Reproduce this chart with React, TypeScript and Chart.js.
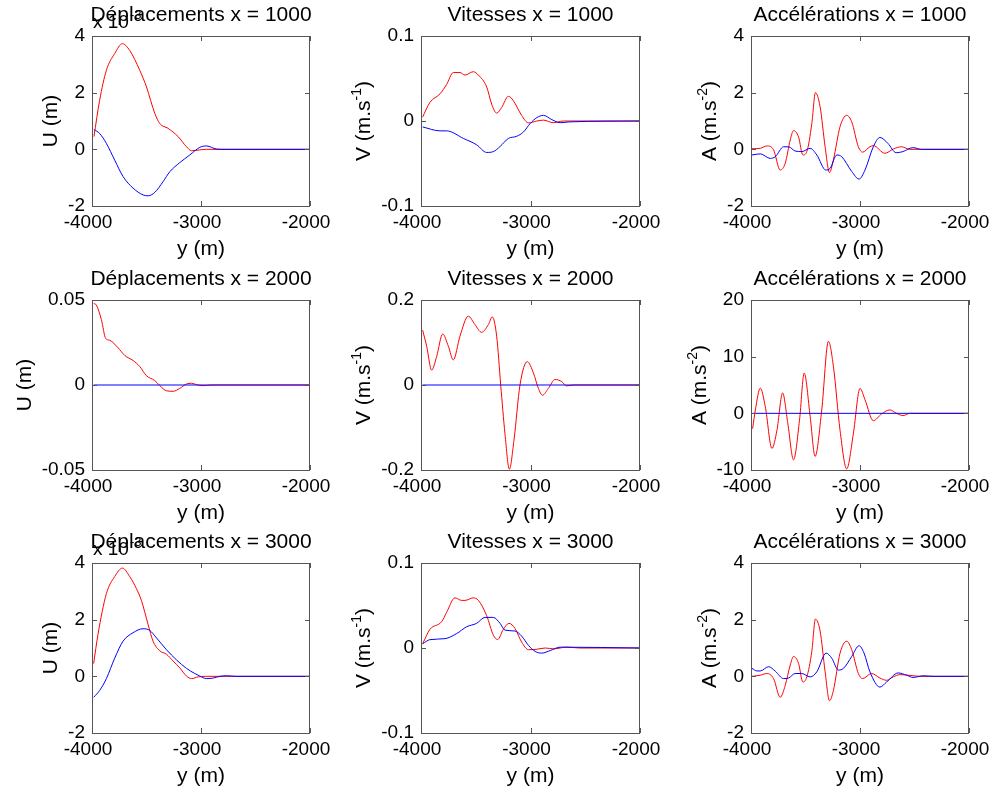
import React, { useEffect, useRef } from 'react';
import { Chart, registerables } from 'chart.js';

Chart.register(...registerables);

const W = 995;
const H = 794;
const FONT = "'Liberation Sans', Arial, Helvetica, sans-serif";
const FS = 19;
const FS_TITLE = 21;
const FS_SUP = 14;

// ---------- axes ----------
const X_MIN = -4000;
const X_MAX = -2000;
const xTicks = [-4000, -3000, -2000];
const xTickLabels = ['-4000', '-3000', '-2000'];
const xTitle = 'y (m)';

const uTicksSmall = [-0.002, 0, 0.002, 0.004];
const uTicksSmallLabels = ['-2', '0', '2', '4'];
const uTicksMid = [-0.05, 0, 0.05];
const uTicksMidLabels = ['-0.05', '0', '0.05'];
const vTicksSmall = [-0.1, 0, 0.1];
const vTicksSmallLabels = ['-0.1', '0', '0.1'];
const vTicksMid = [-0.2, 0, 0.2];
const vTicksMidLabels = ['-0.2', '0', '0.2'];
const aTicksSmall = [-2, 0, 2, 4];
const aTicksSmallLabels = ['-2', '0', '2', '4'];
const aTicksMid = [-10, 0, 10, 20];
const aTicksMidLabels = ['-10', '0', '10', '20'];

const titles = [
  ['Déplacements x = 1000', 'Vitesses x = 1000', 'Accélérations x = 1000'],
  ['Déplacements x = 2000', 'Vitesses x = 2000', 'Accélérations x = 2000'],
  ['Déplacements x = 3000', 'Vitesses x = 3000', 'Accélérations x = 3000'],
];

// ---------- x = 1000 ----------
const u1RedX = [-3982, -3930, -3868, -3792, -3721, -3654, -3562, -3500, -3424, -3378, -3302, -3210, -3133, -3087, -3011, -2950, -2000];
const u1RedY = [0.00045, 0.00173, 0.00279, 0.00338, 0.00373, 0.00349, 0.00279, 0.0022, 0.00127, 0.00091, 0.00074, 0.00045, 0.00009, -0.00005, -0.00002, 0, 0];
const u1BlueX = [-3982, -3930, -3868, -3792, -3715, -3623, -3531, -3485, -3424, -3348, -3286, -3195, -3103, -3011, -2949, -2858, -2780, -2000];
const u1BlueY = [0.0007, 0.00056, 0.00021, -0.00038, -0.00096, -0.00137, -0.00161, -0.00164, -0.00152, -0.00114, -0.00079, -0.00047, -0.0002, 0.00007, 0.00012, 0.00001, 0, 0];

const v1RedX = [-3985, -3918, -3826, -3766, -3705, -3644, -3598, -3522, -3476, -3400, -3355, -3309, -3263, -3202, -3157, -3081, -3018, -2942, -2881, -2792, -2700, -2000];
const v1RedY = [0.0047, 0.022, 0.032, 0.043, 0.057, 0.057, 0.054, 0.058, 0.054, 0.04, 0.02, 0.0093, 0.016, 0.029, 0.024, 0.0066, -0.0023, 0, 0.001, -0.002, 0, 0];
const v1BlueX = [-3985, -3826, -3766, -3613, -3492, -3400, -3339, -3278, -3202, -3126, -3065, -3003, -2942, -2881, -2805, -2729, -2640, -2000];
const v1BlueY = [-0.007, -0.0116, -0.0116, -0.0205, -0.028, -0.037, -0.036, -0.03, -0.0205, -0.018, -0.013, -0.003, 0.004, 0.0066, 0.0016, -0.002, -0.001, 0];

const a1RedX = [-3991, -3915, -3854, -3793, -3732, -3686, -3640, -3610, -3564, -3524, -3488, -3442, -3409, -3366, -3320, -3280, -3244, -3183, -3122, -3076, -3015, -2976, -2909, -2878, -2771, -2695, -2619, -2543, -2000];
const a1RedY = [0.02, 0.035, 0.12, -0.02, -0.73, -0.49, 0.33, 0.66, 0.44, -0.2, -0.08, 0.91, 2.0, 1.5, 0.09, -0.82, -0.37, 0.8, 1.2, 0.97, 0.09, -0.1, 0.09, 0.13, -0.14, 0.01, 0.09, 0, 0];
const a1BlueX = [-3991, -3915, -3823, -3777, -3701, -3655, -3595, -3534, -3457, -3396, -3314, -3274, -3213, -3168, -3076, -3009, -2954, -2878, -2817, -2744, -2668, -2607, -2515, -2436, -2000];
const a1BlueY = [-0.2, -0.16, -0.32, -0.26, 0.09, 0.09, -0.06, -0.08, 0.035, -0.2, -0.73, -0.67, -0.2, -0.26, -0.78, -1.05, -0.73, 0.09, 0.42, 0.21, -0.12, -0.08, 0.06, 0, 0];

// ---------- x = 2000 ----------
const u2RedX = [-3985, -3960, -3914, -3874, -3838, -3761, -3700, -3623, -3562, -3501, -3424, -3378, -3317, -3256, -3195, -3133, -3087, -3041, -2980, -2900, -2000];
const u2RedY = [0.048, 0.047, 0.0385, 0.0273, 0.0263, 0.0219, 0.0174, 0.0144, 0.0109, 0.0055, 0.0026, -0.0004, -0.0034, -0.0037, -0.002, 0.0006, 0.001, 0.0002, -0.0004, 0, 0];
const u2BlueX = [-3985, -3000, -2000];
const u2BlueY = [0, 0, 0];

const v2RedX = [-3985, -3948, -3903, -3857, -3802, -3750, -3705, -3644, -3568, -3507, -3446, -3385, -3349, -3309, -3272, -3233, -3193, -3151, -3096, -3029, -2973, -2928, -2891, -2837, -2776, -2715, -2670, -2609, -2000];
const v2RedY = [0.129, 0.091, 0.035, 0.067, 0.12, 0.091, 0.059, 0.115, 0.162, 0.142, 0.124, 0.142, 0.16, 0.115, 0, -0.115, -0.198, -0.13, 0, 0.055, 0.028, -0.008, -0.024, -0.008, 0.013, 0.008, -0.002, 0, 0];
const v2BlueX = [-3985, -3000, -2000];
const v2BlueY = [0, 0, 0];

const a2RedX = [-3985, -3960, -3915, -3869, -3808, -3762, -3710, -3662, -3610, -3555, -3512, -3457, -3412, -3351, -3290, -3244, -3183, -3122, -3061, -3000, -2954, -2878, -2802, -2726, -2665, -2604, -2543, -2000];
const a2RedY = [-2.7, 0.6, 4.45, 1.2, -6.2, -3.0, 3.6, -1.8, -8.2, -1.2, 7.1, -0.6, -7.6, 0.6, 12.7, 8.3, -3.0, -9.8, -3.6, 4.4, 2.4, -1.3, -0.1, 0.6, 0, -0.4, 0, 0];
const a2BlueX = [-3985, -3000, -2000];
const a2BlueY = [0, 0, 0];

// ---------- x = 3000 ----------
const u3RedX = [-3985, -3945, -3868, -3792, -3721, -3654, -3593, -3547, -3486, -3440, -3378, -3317, -3256, -3195, -3133, -3087, -3026, -2960, -2000];
const u3RedY = [0.00045, 0.00148, 0.00292, 0.00352, 0.00382, 0.00352, 0.0031, 0.00268, 0.00184, 0.00124, 0.0009, 0.00078, 0.00054, 0.0003, 0.00001, -0.00008, -0.00002, 0, 0];
const u3BlueX = [-3985, -3930, -3868, -3792, -3715, -3623, -3531, -3470, -3409, -3317, -3225, -3133, -3057, -3011, -2949, -2888, -2827, -2766, -2720, -2680, -2000];
const u3BlueY = [-0.00074, -0.0005, -0.00008, 0.00064, 0.00124, 0.00154, 0.00168, 0.00162, 0.00136, 0.00094, 0.00058, 0.00028, 0.0001, 0.00001, -0.00008, -0.00006, 0, 0.00002, 0.00001, 0, 0];

const v3RedX = [-3985, -3918, -3811, -3766, -3690, -3629, -3598, -3522, -3476, -3400, -3339, -3300, -3248, -3196, -3142, -3081, -3018, -2942, -2866, -2790, -2670, -2548, -2000];
const v3RedY = [0.005, 0.022, 0.031, 0.042, 0.059, 0.056, 0.056, 0.059, 0.056, 0.038, 0.015, 0.01, 0.022, 0.029, 0.023, 0.007, -0.002, -0.0015, 0, -0.001, 0.001, 0, 0];
const v3BlueX = [-3985, -3918, -3781, -3674, -3583, -3492, -3415, -3339, -3278, -3233, -3142, -3081, -3018, -2958, -2897, -2820, -2729, -2000];
const v3BlueY = [0.005, 0.0098, 0.011, 0.017, 0.025, 0.029, 0.036, 0.036, 0.029, 0.021, 0.02, 0.014, 0.003, -0.004, -0.006, -0.003, 0.001, 0];

const a3RedX = [-3991, -3915, -3854, -3793, -3732, -3686, -3640, -3610, -3564, -3524, -3488, -3442, -3409, -3366, -3320, -3280, -3244, -3183, -3122, -3076, -3015, -2976, -2894, -2817, -2756, -2695, -2634, -2558, -2451, -2000];
const a3RedY = [0, 0.04, 0.1, -0.08, -0.74, -0.32, 0.4, 0.7, 0.46, -0.2, -0.02, 0.88, 2.02, 1.6, 0.16, -0.86, -0.5, 0.82, 1.24, 0.94, 0.1, -0.08, 0.1, -0.06, -0.14, -0.02, 0.06, 0.04, 0, 0];
const a3BlueX = [-3991, -3945, -3915, -3838, -3777, -3701, -3655, -3595, -3534, -3457, -3396, -3311, -3259, -3198, -3152, -3076, -3009, -2963, -2909, -2817, -2756, -2649, -2573, -2512, -2421, -2329, -2000];
const a3BlueY = [0.28, 0.19, 0.19, 0.34, 0.18, -0.08, -0.06, 0.1, 0.1, -0.02, 0.16, 0.82, 0.64, 0.22, 0.28, 0.7, 1.08, 0.82, 0.16, -0.38, -0.2, 0.12, 0.04, -0.04, 0.02, 0, 0];

// ---------- layout (plot-box edges in page pixels) ----------
const colLeft = [92, 421, 751];
const colRight = [310, 640, 969];
const rowTop = [36, 300, 563];
const rowBottom = [206, 470, 733];

type Part = [string, boolean];
const uLabel: Part[] = [['U (m)', false]];
const vLabel: Part[] = [['V (m.s', false], ['-1', true], [')', false]];
const aLabel: Part[] = [['A (m.s', false], ['-2', true], [')', false]];

interface PanelDef {
  row: number;
  col: number;
  yTicks: number[];
  yTickLabels: string[];
  yLabel: Part[];
  exponent?: string;
  blue: [number[], number[]];
  red: [number[], number[]];
}

const panels: PanelDef[] = [
  { row: 0, col: 0, yTicks: uTicksSmall, yTickLabels: uTicksSmallLabels, yLabel: uLabel, exponent: '-3', blue: [u1BlueX, u1BlueY], red: [u1RedX, u1RedY] },
  { row: 0, col: 1, yTicks: vTicksSmall, yTickLabels: vTicksSmallLabels, yLabel: vLabel, blue: [v1BlueX, v1BlueY], red: [v1RedX, v1RedY] },
  { row: 0, col: 2, yTicks: aTicksSmall, yTickLabels: aTicksSmallLabels, yLabel: aLabel, blue: [a1BlueX, a1BlueY], red: [a1RedX, a1RedY] },
  { row: 1, col: 0, yTicks: uTicksMid, yTickLabels: uTicksMidLabels, yLabel: uLabel, blue: [u2BlueX, u2BlueY], red: [u2RedX, u2RedY] },
  { row: 1, col: 1, yTicks: vTicksMid, yTickLabels: vTicksMidLabels, yLabel: vLabel, blue: [v2BlueX, v2BlueY], red: [v2RedX, v2RedY] },
  { row: 1, col: 2, yTicks: aTicksMid, yTickLabels: aTicksMidLabels, yLabel: aLabel, blue: [a2BlueX, a2BlueY], red: [a2RedX, a2RedY] },
  { row: 2, col: 0, yTicks: uTicksSmall, yTickLabels: uTicksSmallLabels, yLabel: uLabel, exponent: '-3', blue: [u3BlueX, u3BlueY], red: [u3RedX, u3RedY] },
  { row: 2, col: 1, yTicks: vTicksSmall, yTickLabels: vTicksSmallLabels, yLabel: vLabel, blue: [v3BlueX, v3BlueY], red: [v3RedX, v3RedY] },
  { row: 2, col: 2, yTicks: aTicksSmall, yTickLabels: aTicksSmallLabels, yLabel: aLabel, blue: [a3BlueX, a3BlueY], red: [a3RedX, a3RedY] },
];

function toPoints(xs: number[], ys: number[]) {
  return xs.map((x, i) => ({ x, y: ys[i] }));
}

function decorPlugin(p: PanelDef) {
  return {
    id: 'decor',
    afterDraw(chart: any) {
      const ctx: CanvasRenderingContext2D = chart.ctx;
      const { left, right, top, bottom } = chart.chartArea;
      const xs = chart.scales.x;
      const ys = chart.scales.y;
      ctx.save();
      // box
      ctx.strokeStyle = '#555555';
      ctx.lineWidth = 1;
      ctx.strokeRect(Math.round(left) + 0.5, Math.round(top) + 0.5, Math.round(right - left) - 1, Math.round(bottom - top));
      // inward ticks
      ctx.beginPath();
      xTicks.forEach((v) => {
        const px = Math.round(xs.getPixelForValue(v)) + 0.5;
        ctx.moveTo(px, bottom);
        ctx.lineTo(px, bottom - 5);
        ctx.moveTo(px, top);
        ctx.lineTo(px, top + 5);
      });
      p.yTicks.forEach((v) => {
        const py = Math.round(ys.getPixelForValue(v)) + 0.5;
        ctx.moveTo(left, py);
        ctx.lineTo(left + 5, py);
        ctx.moveTo(right, py);
        ctx.lineTo(right - 5, py);
      });
      ctx.stroke();

      ctx.fillStyle = '#000';
      // exponent marker
      if (p.exponent) {
        ctx.font = `${FS}px ${FONT}`;
        ctx.textAlign = 'left';
        ctx.textBaseline = 'alphabetic';
        const base = 'x 10';
        ctx.fillText(base, left + 1, top - 8);
        const bw = ctx.measureText(base).width;
        ctx.font = `13px ${FONT}`;
        ctx.fillText(p.exponent, left + 1 + bw + 1, top - 17);
      }
      // title
      ctx.font = `${FS_TITLE}px ${FONT}`;
      ctx.textAlign = 'center';
      ctx.textBaseline = 'alphabetic';
      ctx.fillText(titles[p.row][p.col], (left + right) / 2, top - 15);
      // x title
      ctx.fillText(xTitle, (left + right) / 2, bottom + 49);
      // y title (rotated, with superscript)
      ctx.font = `${FS}px ${FONT}`;
      let maxW = 0;
      p.yTickLabels.forEach((t) => {
        maxW = Math.max(maxW, ctx.measureText(t).width);
      });
      const baseX = left - 7 - maxW - 11;
      const widths = p.yLabel.map(([t, sup]) => {
        ctx.font = `${sup ? FS_SUP : FS_TITLE}px ${FONT}`;
        return ctx.measureText(t).width;
      });
      const total = widths.reduce((a, b) => a + b, 0);
      ctx.translate(baseX, (top + bottom) / 2);
      ctx.rotate(-Math.PI / 2);
      ctx.textAlign = 'left';
      let cx = -total / 2;
      p.yLabel.forEach(([t, sup], i) => {
        ctx.font = `${sup ? FS_SUP : FS_TITLE}px ${FONT}`;
        ctx.fillText(t, cx, sup ? -9 : 0);
        cx += widths[i];
      });
      ctx.restore();
    },
  };
}

function Panel({ p }: { p: PanelDef }) {
  const ref = useRef<HTMLCanvasElement>(null);
  useEffect(() => {
    const canvas = ref.current;
    if (!canvas) return;
    const left = colLeft[p.col];
    const right = colRight[p.col];
    const top = rowTop[p.row];
    const bottom = rowBottom[p.row];
    const yMin = p.yTicks[0];
    const yMax = p.yTicks[p.yTicks.length - 1];
    const chart = new Chart(canvas, {
      type: 'line',
      data: {
        datasets: [
          {
            data: toPoints(p.blue[0], p.blue[1]),
            borderColor: '#0000ff',
            borderWidth: 1,
            pointRadius: 0,
            cubicInterpolationMode: 'monotone',
            fill: false,
          },
          {
            data: toPoints(p.red[0], p.red[1]),
            borderColor: '#ff0000',
            borderWidth: 1,
            pointRadius: 0,
            cubicInterpolationMode: 'monotone',
            fill: false,
          },
        ],
      },
      options: {
        responsive: false,
        animation: false,
        devicePixelRatio: 1,
        layout: {
          padding: { left: 0, top, right: W - right, bottom: 0 },
        },
        plugins: {
          legend: { display: false },
          tooltip: { enabled: false },
          title: { display: false },
        },
        events: [],
        scales: {
          x: {
            type: 'linear',
            min: X_MIN,
            max: X_MAX,
            grid: { display: false, drawTicks: false },
            border: { display: false },
            afterBuildTicks: (s: any) => {
              s.ticks = xTicks.map((v) => ({ value: v }));
            },
            afterFit: (s: any) => {
              s.height = H - bottom;
              s.paddingLeft = 0;
              s.paddingRight = 0;
              s.paddingTop = 0;
              s.paddingBottom = 0;
            },
            ticks: {
              color: '#000',
              font: { family: FONT, size: FS },
              padding: 5,
              labelOffset: -4,
              maxRotation: 0,
              autoSkip: false,
              callback: (_v: any, i: number) => xTickLabels[i],
            },
          },
          y: {
            type: 'linear',
            min: yMin,
            max: yMax,
            grid: { display: false, drawTicks: false },
            border: { display: false },
            afterBuildTicks: (s: any) => {
              s.ticks = p.yTicks.map((v) => ({ value: v }));
            },
            afterFit: (s: any) => {
              s.width = left;
              s.paddingLeft = 0;
              s.paddingRight = 0;
              s.paddingTop = 0;
              s.paddingBottom = 0;
            },
            ticks: {
              color: '#000',
              font: { family: FONT, size: FS },
              padding: 7,
              autoSkip: false,
              callback: (_v: any, i: number) => p.yTickLabels[i],
            },
          },
        },
      },
      plugins: [decorPlugin(p)],
    } as any);
    return () => chart.destroy();
  }, [p]);
  return (
    <canvas
      ref={ref}
      width={W}
      height={H}
      style={{ position: 'absolute', left: 0, top: 0, width: W, height: H }}
    />
  );
}

export default function App() {
  return (
    <div style={{ position: 'absolute', left: 0, top: 0, width: W, height: H, background: '#fff', overflow: 'hidden' }}>
      {panels.map((p, i) => (
        <Panel key={i} p={p} />
      ))}
    </div>
  );
}
